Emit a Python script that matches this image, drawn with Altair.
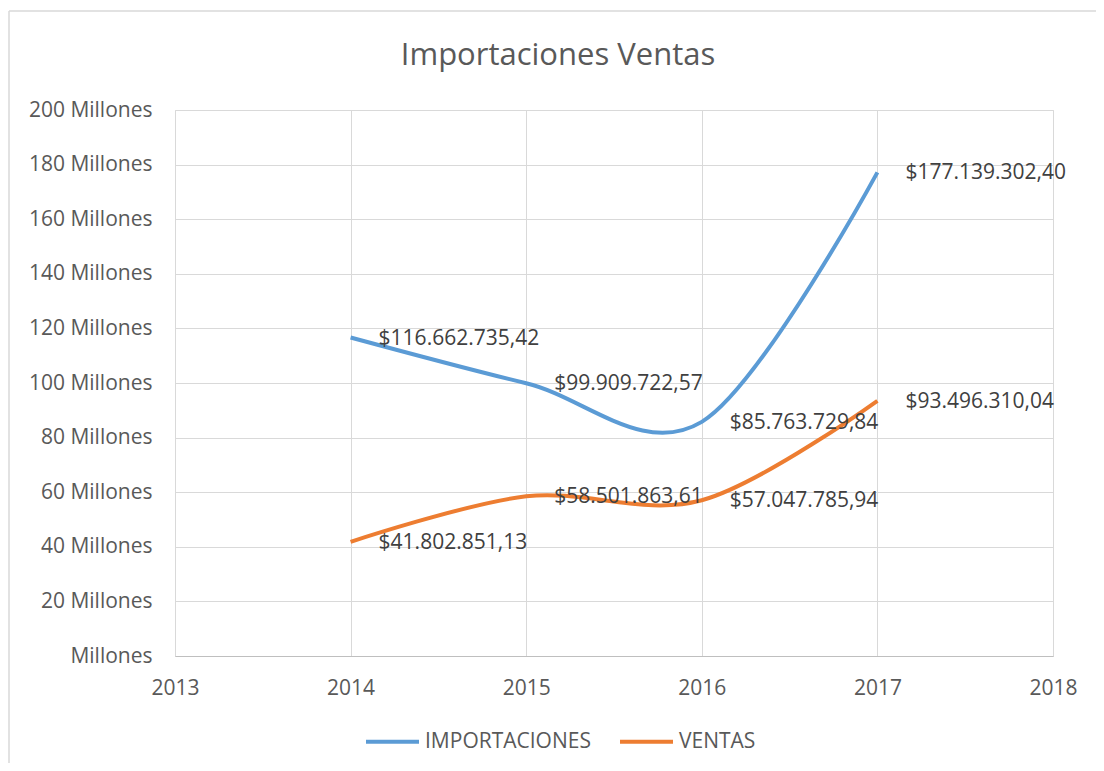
import altair as alt
import pandas as pd

# ---- data ----
years = [2014, 2015, 2016, 2017]
importaciones = [116662735.42, 99909722.57, 85763729.84, 177139302.40]
ventas = [41802851.13, 58501863.61, 57047785.94, 93496310.04]
series_names = ["IMPORTACIONES", "VENTAS"]
series_colors = ["#5B9BD5", "#ED7D31"]
x_ticks = [2013, 2014, 2015, 2016, 2017, 2018]
y_ticks = [0, 20e6, 40e6, 60e6, 80e6, 100e6, 120e6, 140e6, 160e6, 180e6, 200e6]
title_text = "Importaciones Ventas"

FONT = "Open Sans"
GREY = "#595959"


def fmt_money(v):
    s = f"{v:,.2f}"
    s = s.replace(",", "X").replace(".", ",").replace("X", ".")
    return "$" + s


rows = []
for name, vals in zip(series_names, [importaciones, ventas]):
    for yr, v in zip(years, vals):
        rows.append({"year": yr, "value": v, "serie": name, "label": fmt_money(v)})
df = pd.DataFrame(rows)

x_enc = alt.X(
    "year:Q",
    scale=alt.Scale(domain=[2013, 2018], nice=False, zero=False),
    axis=alt.Axis(
        values=x_ticks, format="d", title=None, grid=True, gridColor="#d9d9d9",
        ticks=False, domainColor="#bfbfbf", domainWidth=1.2, labelPadding=21,
        labelFontSize=21, labelColor=GREY, labelFont=FONT, labelFlush=False,
    ),
)
y_enc = alt.Y(
    "value:Q",
    scale=alt.Scale(domain=[0, 200e6], nice=False),
    axis=alt.Axis(
        values=y_ticks, title=None, grid=True, gridColor="#d9d9d9", domain=False,
        ticks=False, labelPadding=23, labelFontSize=21, labelColor=GREY, labelFont=FONT,
        labelExpr="datum.value == 0 ? 'Millones' : format(datum.value/1000000, 'd') + ' Millones'",
    ),
)

base = alt.Chart(df)

lines = base.mark_line(interpolate="cardinal", tension=0, strokeWidth=4).encode(
    x=x_enc,
    y=y_enc,
    color=alt.Color(
        "serie:N",
        scale=alt.Scale(domain=series_names, range=series_colors),
        legend=alt.Legend(
            orient="none", legendX=189, legendY=603, direction="horizontal", title=None,
            symbolType="stroke", symbolSize=2809, symbolStrokeWidth=4,
            labelFontSize=21, labelColor=GREY, labelFont=FONT, labelOffset=4,
            labelLimit=400, columnPadding=21, padding=0,
        ),
    ),
)

labels = base.mark_text(
    align="left", baseline="middle", dx=28, dy=1, fontSize=21, color="#404040", font=FONT
).encode(x="year:Q", y="value:Q", text="label:N")

frame_df = pd.DataFrame({"k": [0]})
top_border = alt.Chart(frame_df).mark_rule(color="#d9d9d9", strokeWidth=1.5).encode(
    x=alt.value(-166), x2=alt.value(940), y=alt.value(-99)
)
left_border = alt.Chart(frame_df).mark_rule(color="#d9d9d9", strokeWidth=1.5).encode(
    x=alt.value(-166), y=alt.value(-99), y2=alt.value(700)
)

title_df = pd.DataFrame({"t": [title_text]})
title_mark = alt.Chart(title_df).mark_text(
    align="center", baseline="middle", fontSize=31, font=FONT, color=GREY
).encode(text="t:N", x=alt.value(383), y=alt.value(-54))

chart = (
    alt.layer(top_border, left_border, title_mark, lines, labels)
    .properties(
        width=878,
        height=546,
        padding={"left": 167, "top": 102, "right": 43, "bottom": 107},
        autosize="none",
    )
    .configure_view(stroke=None)
    .configure(background="white")
)

chart.save("out.html", embed_options={"renderer": "svg", "actions": False})
